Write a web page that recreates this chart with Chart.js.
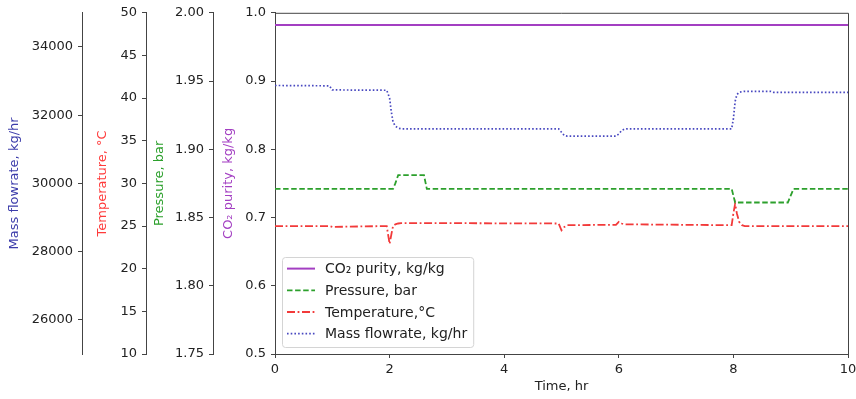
<!DOCTYPE html>
<html>
<head>
<meta charset="utf-8">
<script src="https://cdn.jsdelivr.net/npm/chart.js@4.4.1/dist/chart.umd.min.js"></script>
<style>
  body { margin: 0; background: #fff; }
  #wrap { width: 856px; height: 399px; }
</style>
</head>
<body>
<div id="wrap"><canvas id="chart"></canvas></div>
<script>
// values
var time        = [0, 0.95, 1.0, 1.95, 2.0, 2.03, 2.06, 2.1, 2.15, 2.2, 2.6, 2.65, 4.95, 5.0, 5.05, 5.1, 5.95, 6.0, 6.05, 6.1, 6.15, 7.97, 8.0, 8.03, 8.06, 8.1, 8.15, 8.2, 8.65, 8.7, 8.95, 9.0, 9.05, 10];
var co2Purity   = [0.982, 0.982, 0.982, 0.982, 0.982, 0.982, 0.982, 0.982, 0.982, 0.982, 0.982, 0.982, 0.982, 0.982, 0.982, 0.982, 0.982, 0.982, 0.982, 0.982, 0.982, 0.982, 0.982, 0.982, 0.982, 0.982, 0.982, 0.982, 0.982, 0.982, 0.982, 0.982, 0.982, 0.982];
var pressure    = [1.871, 1.871, 1.871, 1.871, 1.871, 1.871, 1.871, 1.875, 1.881, 1.881, 1.881, 1.871, 1.871, 1.871, 1.871, 1.871, 1.871, 1.871, 1.871, 1.871, 1.871, 1.871, 1.866, 1.861, 1.861, 1.861, 1.861, 1.861, 1.861, 1.861, 1.861, 1.866, 1.871, 1.871];
var temperature = [25.0, 25.0, 24.9, 25.0, 22.9, 24.0, 25.0, 25.2, 25.3, 25.35, 25.35, 25.35, 25.3, 24.5, 24.9, 25.1, 25.15, 25.5, 25.3, 25.2, 25.2, 25.1, 26.5, 27.6, 26.5, 25.5, 25.1, 25.0, 25.0, 25.0, 25.0, 25.0, 25.0, 25.0];
var massFlow    = [32870, 32860, 32740, 32730, 32500, 32100, 31800, 31680, 31620, 31600, 31600, 31600, 31600, 31500, 31400, 31385, 31385, 31450, 31550, 31590, 31600, 31600, 31900, 32400, 32600, 32670, 32690, 32700, 32700, 32670, 32670, 32670, 32670, 32670];

var timeTicks     = [0, 2, 4, 6, 8, 10];
var purityTicks   = [0.5, 0.6, 0.7, 0.8, 0.9, 1.0];
var pressureTicks = [1.75, 1.80, 1.85, 1.90, 1.95, 2.00];
var tempTicks     = [10, 15, 20, 25, 30, 35, 40, 45, 50];
var massTicks     = [26000, 28000, 30000, 32000, 34000];

var FONT = '"DejaVu Sans", sans-serif';
var AXIS = '#444';

function pts(arr) {
  return time.map(function (t, i) { return { x: t, y: arr[i] }; });
}

function leftAxis(opts) {
  return {
    type: 'linear',
    position: 'left',
    weight: opts.weight,
    min: opts.min,
    max: opts.max,
    afterBuildTicks: function (s) {
      s.ticks = opts.ticks.map(function (v) { return { value: v }; });
    },
    afterFit: function (s) { s.width = opts.width; },
    grid: { drawOnChartArea: false, tickLength: 4, color: AXIS },
    border: { color: AXIS },
    ticks: {
      padding: 5, color: '#222', font: { family: FONT, size: 13 },
      callback: opts.fmt
    },
    title: {
      display: true, text: opts.title, color: opts.color,
      font: { family: FONT, size: 13 },
      padding: { top: opts.titlePad, bottom: 0 }
    }
  };
}

var frame = {
  id: 'frame',
  afterDatasetsDraw: function (chart) {
    var a = chart.chartArea, ctx = chart.ctx;
    ctx.save();
    ctx.strokeStyle = AXIS;
    ctx.lineWidth = 1;
    ctx.beginPath();
    ctx.moveTo(a.left, a.top + 0.5);
    ctx.lineTo(a.right + 0.5, a.top + 0.5);
    ctx.lineTo(a.right + 0.5, a.bottom);
    ctx.stroke();
    ctx.restore();
  }
};

var legendBox = {
  id: 'legendBox',
  afterDraw: function (chart) {
    var ctx = chart.ctx, a = chart.chartArea;
    var sets = chart.data.datasets;
    ctx.save();
    ctx.font = '14px ' + FONT;
    var w = 0;
    sets.forEach(function (d) { w = Math.max(w, ctx.measureText(d.label).width); });
    var rowH = 21.7, boxW = 49 + w, boxH = sets.length * rowH + 3.2;
    var x0 = a.left + 7, y0 = a.bottom - 7 - boxH;
    ctx.fillStyle = 'rgba(255,255,255,0.85)';
    ctx.strokeStyle = '#d4d4d4';
    ctx.lineWidth = 1;
    ctx.beginPath();
    ctx.roundRect(x0 + 0.5, y0 + 0.5, boxW, boxH, 3);
    ctx.fill();
    ctx.stroke();
    sets.forEach(function (d, i) {
      var cy = y0 + 11.6 + i * rowH;
      ctx.setLineDash(d.borderDash || []);
      ctx.strokeStyle = d.borderColor;
      ctx.lineWidth = d.borderWidth;
      ctx.beginPath();
      ctx.moveTo(x0 + 5, cy);
      ctx.lineTo(x0 + 33, cy);
      ctx.stroke();
      ctx.setLineDash([]);
      ctx.fillStyle = '#222';
      ctx.textBaseline = 'middle';
      ctx.textAlign = 'left';
      ctx.fillText(d.label, x0 + 43, cy + 1);
    });
    ctx.restore();
  }
};

new Chart(document.getElementById('chart'), {
  type: 'line',
  data: {
    datasets: [{
      label: 'CO\u2082 purity, kg/kg',
      data: pts(co2Purity),
      yAxisID: 'purity',
      borderColor: '#a33fc2',
      borderWidth: 2
    }, {
      label: 'Pressure, bar',
      data: pts(pressure),
      yAxisID: 'pressure',
      borderColor: '#2ca02c',
      borderWidth: 1.8,
      borderDash: [5.5, 2.6]
    }, {
      label: 'Temperature,\u00b0C',
      data: pts(temperature),
      yAxisID: 'temp',
      borderColor: '#f23a3a',
      borderWidth: 1.8,
      borderDash: [8, 2.6, 1.8, 2.6]
    }, {
      label: 'Mass flowrate, kg/hr',
      data: pts(massFlow),
      yAxisID: 'mass',
      borderColor: '#4848c0',
      borderWidth: 1.7,
      borderDash: [1.6, 2.1]
    }]
  },
  options: {
    responsive: true,
    maintainAspectRatio: false,
    animation: false,
    layout: { padding: { top: 12, right: 0, left: 0, bottom: 0 } },
    elements: { point: { radius: 0 }, line: { tension: 0, fill: false } },
    plugins: { legend: { display: false }, tooltip: { enabled: false } },
    scales: {
      x: {
        type: 'linear',
        min: 0,
        max: 10,
        afterBuildTicks: function (s) {
          s.ticks = timeTicks.map(function (v) { return { value: v }; });
        },
        afterFit: function (s) {
          s.height = 45;
          s.paddingLeft = 0;
          s.paddingRight = 8;
        },
        grid: { drawOnChartArea: false, tickLength: 4, color: AXIS },
        border: { color: AXIS },
        ticks: { padding: 4, color: '#222', font: { family: FONT, size: 13 }, maxRotation: 0 },
        title: {
          display: true, text: 'Time, hr', color: '#222',
          font: { family: FONT, size: 13 },
          padding: { top: 2, bottom: 4.5 }
        }
      },
      purity: leftAxis({
        weight: 0, min: 0.5, max: 1.0, ticks: purityTicks, width: 62, titlePad: 8,
        title: 'CO\u2082 purity, kg/kg', color: '#a33fc2',
        fmt: function (v) { return v.toFixed(1); }
      }),
      pressure: leftAxis({
        weight: 1, min: 1.75, max: 2.0, ticks: pressureTicks, width: 67, titlePad: 6,
        title: 'Pressure, bar', color: '#2ca02c',
        fmt: function (v) { return v.toFixed(2); }
      }),
      temp: leftAxis({
        weight: 2, min: 10, max: 50, ticks: tempTicks, width: 64, titlePad: 13,
        title: 'Temperature, \u00b0C', color: '#ff3b3b',
        fmt: function (v) { return String(v); }
      }),
      mass: leftAxis({
        weight: 3, min: 25000, max: 35000, ticks: massTicks, width: 82, titlePad: 7,
        title: 'Mass flowrate, kg/hr', color: '#3c3caa',
        fmt: function (v) { return String(v); }
      })
    }
  },
  plugins: [frame, legendBox]
});
</script>
</body>
</html>
